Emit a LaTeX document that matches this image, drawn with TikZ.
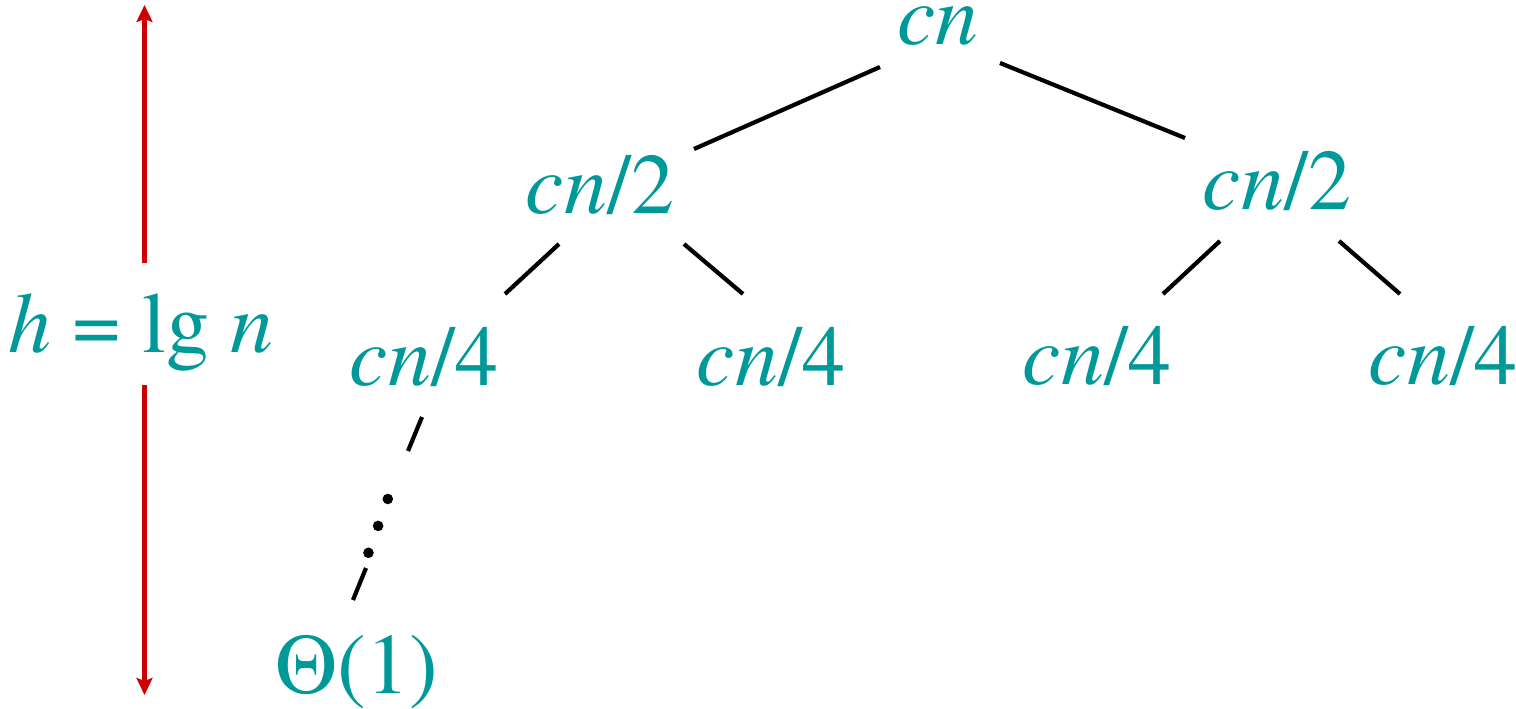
\documentclass[tikz,border=0pt]{standalone}
\usepackage{fontspec}
\IfFontExistsTF{texgyretermes-regular.otf}
  {\newfontfamily\treefont{texgyretermes}[Extension=.otf, UprightFont=*-regular, ItalicFont=*-italic]}
  {\newfontfamily\treefont{Liberation Serif}}
\usepackage{tikz}
\usetikzlibrary{arrows.meta,calc}
\definecolor{treeteal}{RGB}{0,153,153}
\definecolor{hred}{RGB}{204,0,0}

\begin{document}
\begin{tikzpicture}[
        x=1pt,
        y=-1pt,
        cost/.style={anchor=base, inner sep=0pt, text=treeteal, font=\treefont\fontsize{86}{100}\selectfont},
        branch/.style={line width=4.2pt},
        hspan/.style={draw=hred, line width=4.5pt, -{Stealth[length=17pt, width=16pt, inset=3pt]}}
    ]
        \useasboundingbox (0,0) rectangle (1516,709);

        \node[cost] (root) at (938,45) {\textit{cn}};
        \node[cost] (l2) at (600,213) {\textit{cn}/2};
        \node[cost] (r2) at (1277,209) {\textit{cn}/2};
        \foreach \name/\x/\y in {ll/424/385, lr/771/385, rl/1097/384, rr/1443/384}
            \node[cost] (\name) at (\x,\y) {\textit{cn}/4};
        \node[cost] (leaf) at (357,693) {Θ(1)};
        \node[cost] (hlabel) at (141,352) {\textit{h} = lg \textit{n}};

        % levels of the tree
        \draw[branch] ([shift={(-58,22)}]root.base) -- ([shift={(94,-64)}]l2.base);
        \draw[branch] ([shift={(62,18)}]root.base) -- ([shift={(-92,-71)}]r2.base);
        \draw[branch] ([shift={(-41,31)}]l2.base) -- ([shift={(81,-91)}]ll.base);
        \draw[branch] ([shift={(84,31)}]l2.base) -- ([shift={(-28,-91)}]lr.base);
        \draw[branch] ([shift={(-57,32)}]r2.base) -- ([shift={(66,-90)}]rl.base);
        \draw[branch] ([shift={(62,32)}]r2.base) -- ([shift={(-43,-90)}]rr.base);

        % down to the leaf
        \coordinate (down1) at ([shift={(-16,66)}]ll.base);
        \coordinate (down2) at ([shift={(9,-125)}]leaf.base);
        \draw[branch] ([shift={(-2,32)}]ll.base) -- (down1);
        \draw[branch] (down2) -- ([shift={(-4,-93)}]leaf.base);
        \foreach \p in {0.41,0.64,0.87}
            \fill ($(down1)!\p!(down2)+(-3,0)$) circle (5.3);

        % height of the tree
        \coordinate (htop) at (144.5,5);
        \coordinate (hbot) at (144.5,695);
        \draw[hspan] ([shift={(3.5,-89)}]hlabel.base) -- (htop);
        \draw[hspan] ([shift={(3.5,33)}]hlabel.base) -- (hbot);
    \end{tikzpicture}
\end{document}
